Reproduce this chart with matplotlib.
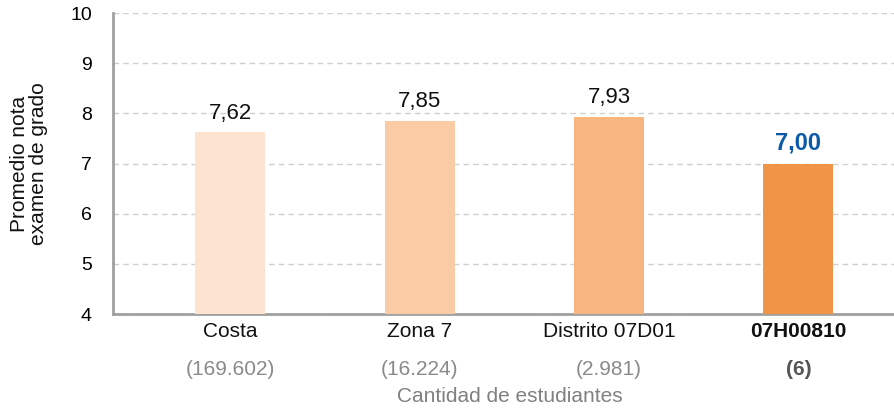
import matplotlib.pyplot as plt
import numpy as np

plt.rcParams['font.family'] = ['Liberation Sans', 'DejaVu Sans']

categorias = ["Costa", "Zona 7", "Distrito 07D01", "07H00810"]
estudiantes = ["(169.602)", "(16.224)", "(2.981)", "(6)"]
promedios = [7.62, 7.85, 7.93, 7.00]
colores = ["#FDE4D1", "#FBCBA6", "#F7B680", "#F09447"]

fig = plt.figure(figsize=(8.95, 4.09), dpi=100)
ax = fig.add_axes([0.126, 0.232, 0.874, 0.736])

x = np.arange(len(categorias))
ax.bar(x, promedios, width=0.37, color=colores, zorder=3)

ax.set_ylim(4, 10)
ax.set_xlim(-0.62, 3.51)
ax.set_yticks(range(4, 11))
ax.yaxis.grid(True, linestyle=(0, (4, 3)), color="#CFCFCF", linewidth=1, zorder=0)
ax.tick_params(axis='y', labelsize=14, length=0, pad=15)
ax.tick_params(axis='x', length=0)
ax.set_xticks([])

for s in ["top", "right"]:
    ax.spines[s].set_visible(False)
ax.spines["left"].set_color("#A0A0A0")
ax.spines["left"].set_linewidth(2)
ax.spines["bottom"].set_color("#A0A0A0")
ax.spines["bottom"].set_linewidth(2)

for i, v in enumerate(promedios):
    texto = f"{v:.2f}".replace(".", ",")
    if i == len(promedios) - 1:
        ax.text(i, v + 0.42, texto, ha="center", va="center", fontsize=17,
                color="#0B5AA8", fontweight="bold")
    else:
        ax.text(i, v + 0.38, texto, ha="center", va="center", fontsize=16,
                color="#111111")

for i, (c, n) in enumerate(zip(categorias, estudiantes)):
    negrita = "bold" if i == len(categorias) - 1 else "normal"
    ax.text(i, 3.65, c, ha="center", va="center", fontsize=15,
            color="#111111", fontweight=negrita, clip_on=False)
    ax.text(i, 2.9, n, ha="center", va="center", fontsize=15,
            color="#555555" if negrita == "bold" else "#8A8A8A",
            fontweight=negrita, clip_on=False)

fig.text(0.57, 0.03, "Cantidad de estudiantes", ha="center", va="center",
         fontsize=15, color="#808080")
fig.text(0.032, 0.6, "Promedio nota\nexamen de grado", ha="center", va="center",
         rotation=90, fontsize=15, color="#111111", linespacing=1.0)

fig.savefig("out.png", dpi=100)
